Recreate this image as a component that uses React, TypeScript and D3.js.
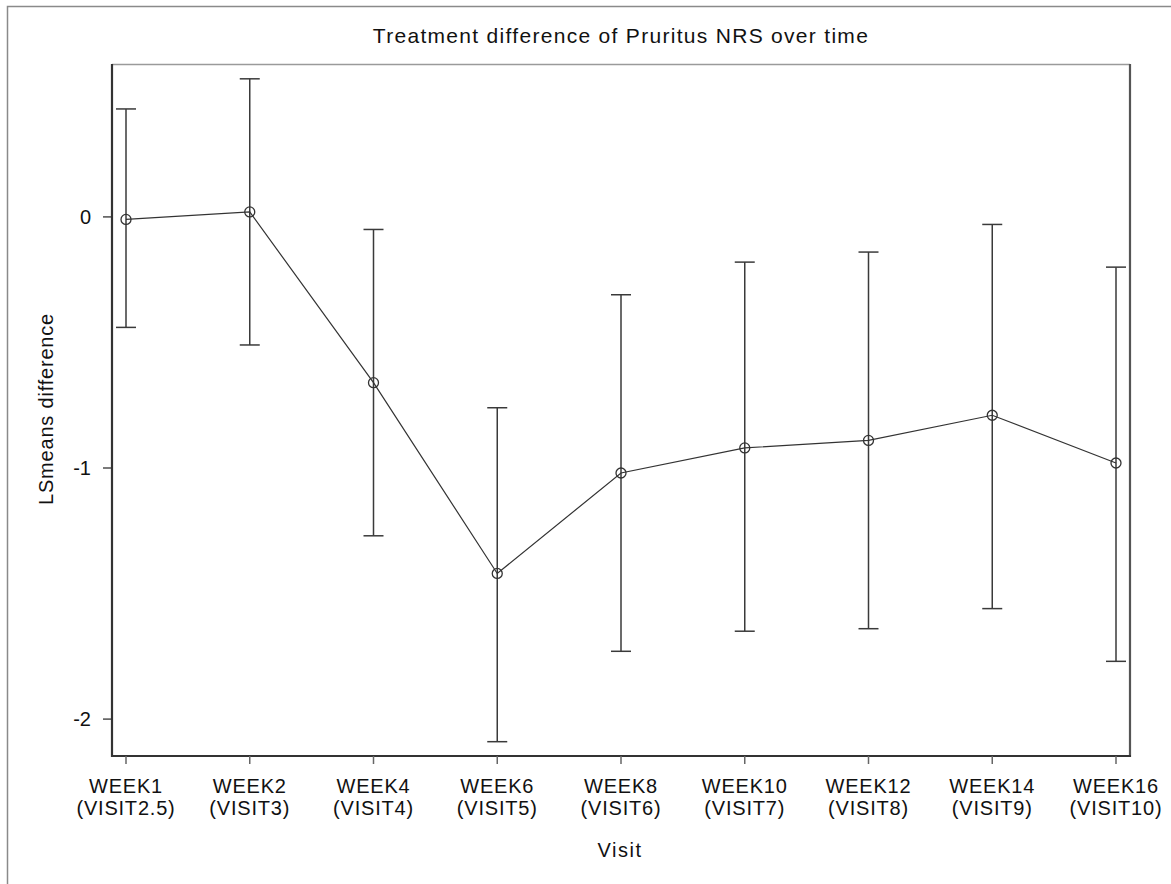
import React from "react";
import * as d3 from "d3";

const weeks = ["WEEK1", "WEEK2", "WEEK4", "WEEK6", "WEEK8", "WEEK10", "WEEK12", "WEEK14", "WEEK16"];
const visits = ["(VISIT2.5)", "(VISIT3)", "(VISIT4)", "(VISIT5)", "(VISIT6)", "(VISIT7)", "(VISIT8)", "(VISIT9)", "(VISIT10)"];
const lsmeans = [-0.01, 0.02, -0.66, -1.42, -1.02, -0.92, -0.89, -0.79, -0.98];
const upper = [0.43, 0.55, -0.05, -0.76, -0.31, -0.18, -0.14, -0.03, -0.2];
const lower = [-0.44, -0.51, -1.27, -2.09, -1.73, -1.65, -1.64, -1.56, -1.77];
const yTicks = [0, -1, -2];

const W = 1171;
const H = 884;
const left = 112;
const right = 1130;
const top = 64;
const bottom = 756;

export default function App() {
  const x = d3.scalePoint<number>().domain(d3.range(weeks.length)).range([126, 1116]);
  const y = d3.scaleLinear().domain([0.609, -2.147]).range([top, bottom]);
  const line = d3
    .line<number>()
    .x((_, i) => x(i) as number)
    .y((d) => y(d));
  const font = "'Liberation Sans', Arial, sans-serif";
  const col = "#333";
  const ls = 0.8;
  return (
    <svg width={W} height={H} style={{ position: "absolute", left: 0, top: 0, background: "#fff" }} fontFamily={font}>
      <rect x={0} y={0} width={W} height={H} fill="#fff" />
      <path d={`M7.5,${H} V6.5 H${W}`} fill="none" stroke="#8a8a8a" strokeWidth={1.5} />
      <text x={621} y={43} textAnchor="middle" fontSize={21} letterSpacing={1.3} fill="#111">
        Treatment difference of Pruritus NRS over time
      </text>
      {/* frame */}
      <line x1={left} x2={right} y1={top + 0.5} y2={top + 0.5} stroke="#9a9a9a" strokeWidth={1.3} />
      <line x1={left} x2={left} y1={top} y2={bottom + 1} stroke={col} strokeWidth={2.2} />
      <line x1={right} x2={right} y1={top} y2={bottom + 1} stroke="#555" strokeWidth={2.2} />
      <line x1={left - 1} x2={right + 1} y1={bottom} y2={bottom} stroke={col} strokeWidth={2.2} />
      {/* y ticks */}
      {yTicks.map((t) => (
        <g key={t}>
          <line x1={left - 9} x2={left} y1={y(t)} y2={y(t)} stroke={col} strokeWidth={1.3} />
          <text x={left - 21} y={y(t)} dy="0.36em" textAnchor="end" fontSize={20} fill="#111">
            {t === 0 ? "0" : `-${Math.abs(t)}`}
          </text>
        </g>
      ))}
      {/* x ticks */}
      {weeks.map((w, i) => (
        <g key={w}>
          <line x1={x(i)} x2={x(i)} y1={bottom} y2={bottom + 8} stroke="#666" strokeWidth={1.5} />
          <text x={x(i)} y={793} textAnchor="middle" fontSize={20} letterSpacing={ls} fill="#111">
            {w}
          </text>
          <text x={x(i)} y={815} textAnchor="middle" fontSize={20} letterSpacing={ls} fill="#111">
            {visits[i]}
          </text>
        </g>
      ))}
      <text x={620} y={857} textAnchor="middle" fontSize={20} letterSpacing={1.5} fill="#111">
        Visit
      </text>
      <text transform={`translate(53,409) rotate(-90)`} textAnchor="middle" fontSize={20} letterSpacing={ls} fill="#111">
        LSmeans difference
      </text>
      {/* error bars */}
      {weeks.map((w, i) => {
        const cx = x(i) as number;
        return (
          <g key={"e" + w} stroke="#3a3a3a" strokeWidth={1.5}>
            <line x1={cx} x2={cx} y1={y(upper[i])} y2={y(lower[i])} />
            <line x1={cx - 10} x2={cx + 10} y1={y(upper[i])} y2={y(upper[i])} />
            <line x1={cx - 10} x2={cx + 10} y1={y(lower[i])} y2={y(lower[i])} />
          </g>
        );
      })}
      <path d={line(lsmeans) || ""} fill="none" stroke="#333" strokeWidth={1.2} />
      {lsmeans.map((v, i) => (
        <circle key={"c" + i} cx={x(i)} cy={y(v)} r={5} fill="none" stroke="#333" strokeWidth={1.3} />
      ))}
    </svg>
  );
}
